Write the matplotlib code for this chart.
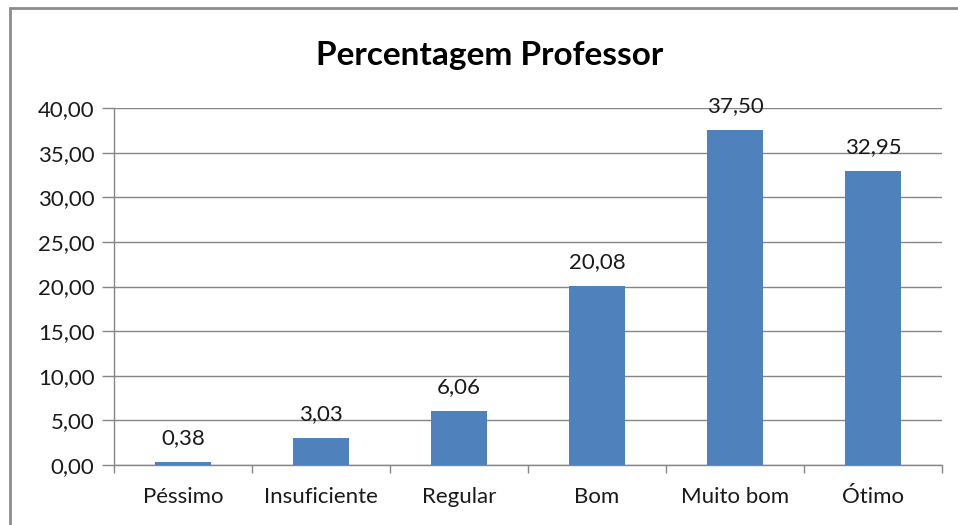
import matplotlib.pyplot as plt
import numpy as np
from matplotlib.patches import Rectangle

# dados
categorias = ['Péssimo', 'Insuficiente', 'Regular', 'Bom', 'Muito bom', 'Ótimo']
valores = [0.38, 3.03, 6.06, 20.08, 37.50, 32.95]
yticks = [0, 5, 10, 15, 20, 25, 30, 35, 40]

plt.rcParams['font.family'] = ['Lato', 'DejaVu Sans']

W, H = 958, 525
fig = plt.figure(figsize=(W / 100, H / 100), dpi=100)
fig.patch.set_facecolor('white')

# moldura externa (cortada à direita e embaixo)
fig.patches.append(Rectangle((10 / W, -0.05), 1.2, (H - 8) / H + 0.05, transform=fig.transFigure,
                             fill=False, edgecolor='#8c8c8c', linewidth=2.0, zorder=0))

x0, x1 = 114 / W, 942 / W
y0, y1 = 1 - 465 / H, 1 - 108 / H
ax = fig.add_axes([x0, y0, x1 - x0, y1 - y0])

cor = '#4F81BD'
grade = '#868686'
texto = '#1a1a1a'
x = np.arange(len(categorias))
ax.bar(x, valores, width=0.4, color=cor, zorder=3)

for xi, v in zip(x, valores):
    ax.annotate(f'{v:.2f}'.replace('.', ','), (xi, v), xytext=(0, 10), textcoords='offset points',
                ha='center', va='bottom', fontsize=16, color=texto)

ax.set_xlim(-0.5, len(categorias) - 0.5)
ax.set_ylim(0, 40)
ax.set_yticks(yticks)
ax.set_yticklabels([f'{t:.2f}'.replace('.', ',') for t in yticks], fontsize=16, color=texto)
ax.yaxis.grid(True, color=grade, linewidth=1.0, zorder=0)
ax.set_axisbelow(True)

ax.set_xticks(x)
ax.set_xticklabels(categorias, fontsize=16, color=texto)
ax.tick_params(axis='x', length=0, pad=16)
ax.set_xticks(np.arange(len(categorias) + 1) - 0.5, minor=True)
ax.tick_params(axis='x', which='minor', length=6, color=grade, width=1.0)
ax.tick_params(axis='y', length=9, color=grade, width=1.0, pad=5)

for s in ['top', 'right']:
    ax.spines[s].set_visible(False)
for s in ['left', 'bottom']:
    ax.spines[s].set_color(grade)
    ax.spines[s].set_linewidth(1.0)

fig.text(490 / W, 1 - 55 / H, 'Percentagem Professor', ha='center', va='center',
         fontsize=24, fontweight='bold', color='black')

fig.savefig('out.png', dpi=100)
